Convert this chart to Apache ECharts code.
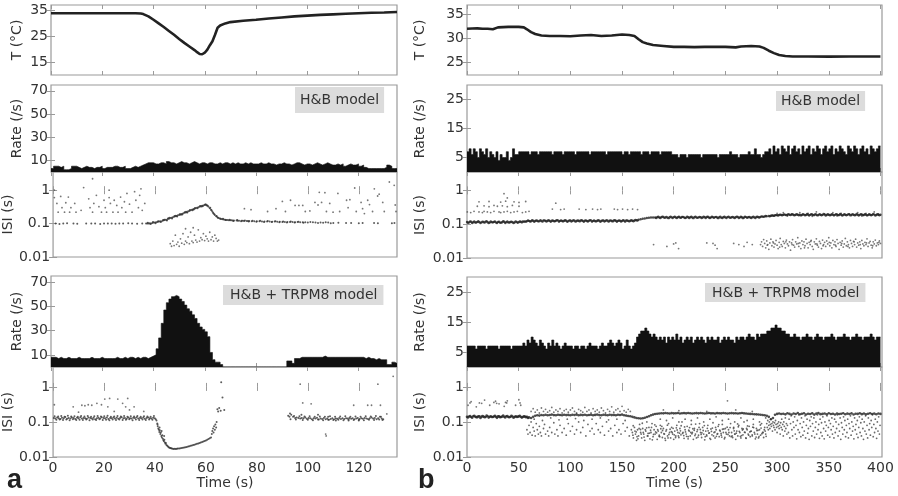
<!DOCTYPE html>
<html><head><meta charset="utf-8">
<script src="https://cdn.jsdelivr.net/npm/echarts@6/dist/echarts.min.js"></script>
<style>html,body{margin:0;padding:0;background:#fff}#c{width:898px;height:496px}</style>
</head><body><div id="c"></div>
<script>
// ---------------- DATA ----------------
// Panel a: temperature trace
const tempA = [[0,33.8],[5,33.8],[10,33.8],[15,33.8],[20,33.8],[25,33.8],[30,33.8],[33,33.8],[35,33.7],[36,33.5],[38,32.6],[40,31.3],[42,29.9],[44,28.5],[46,27.0],[48,25.5],[50,23.9],[52,22.4],[54,21.0],[56,19.6],[57,18.8],[58,18.1],[59,18.0],[60,18.6],[61,19.8],[62,21.5],[63,23.0],[64,25.5],[65,28.2],[66,29.1],[68,29.9],[70,30.4],[75,30.9],[80,31.3],[85,31.8],[90,32.2],[95,32.6],[100,32.9],[105,33.2],[110,33.4],[115,33.6],[120,33.8],[125,34.0],[130,34.1],[135,34.3]];
// Panel b: temperature trace
const tempB = [[0,32.0],[5,32.05],[10,32.1],[15,32.0],[20,32.0],[25,31.9],[30,32.3],[35,32.35],[40,32.4],[45,32.4],[50,32.4],[55,32.3],[58,31.9],[62,31.3],[66,30.9],[72,30.6],[80,30.5],[90,30.5],[100,30.45],[110,30.6],[120,30.7],[125,30.6],[130,30.5],[140,30.6],[150,30.8],[157,30.7],[162,30.5],[166,29.8],[170,29.2],[174,28.9],[180,28.6],[190,28.4],[200,28.2],[210,28.2],[220,28.15],[230,28.2],[240,28.2],[250,28.2],[260,28.1],[265,28.3],[275,28.4],[283,28.3],[287,28.0],[292,27.4],[297,26.9],[302,26.5],[308,26.3],[315,26.2],[330,26.2],[350,26.15],[370,26.2],[390,26.2],[400,26.2]];

// Firing-rate histograms (bin start 0)
const rateA1Bin = 1;
const rateA1 = [3,5,5,4,5,2,2,3,5,5, 4,3,4,5,4,4,3,4,4,5, 3,4,4,4,5,5,4,4,5,3, 3,4,5,4,5,6,7,8,8,8,
 7,7,8,8,7,9,8,8,7,8, 9,8,8,7,8,9,8,7,8,8, 7,8,8,7,7,8,7,8,8,7, 8,7,8,7,7,8,7,8,7,7,
 7,8,7,7,8,7,7,6,7,7, 8,7,7,6,7,8,8,7,6,7, 7,6,7,8,7,6,7,8,7,6, 6,7,6,7,5,6,7,6,6,7,
 5,6,4,3,3,3,3,3,3,3, 4,6,5,3,3];
const rateA2Bin = 1;
const rateA2 = [8,8,7,8,7,7,8,7,7,7, 8,7,7,7,7,8,7,7,7,8, 7,7,7,7,7,8,7,7,8,7, 8,8,7,8,7,8,8,7,8,9,
 10,15,24,36,47,53,56,58,59,58, 56,54,51,48,46,43,40,36,33,31, 29,25,12,6,4,4,2,0,0,0,
 0,0,0,0,0,0,0,0,0,0, 0,0,0,0,0,0,0,0,0,0, 0,0,5,5,3,7,7,8,8,8, 8,8,8,8,8,8,9,8,8,8,
 8,8,8,8,8,8,8,8,8,8, 8,8,7,8,7,7,6,7,6,6, 6,2,2,4,3];
const rateB1Bin = 2;
const rateB1 = [7,8,6,8,7,5,8,7,6,8,5,7,6,5,7,4,6,5,5,7,4,5,8,6,6,
 7,7,7,7,7,6,7,7,7,6,7,7,7,7,7,7,6,7,7,7, 7,6,7,7,7,7,7,6,7,7,7,7,7,7,6,7,7,7,7,7,
 7,7,6,7,7,7,7,7,7,7,6,7,7,6,7,7,7,7,7,6, 7,7,7,6,7,7,7,7,6,7,7,7,7,7,6,
 6,6,5,6,6,6,5,6,6,6, 6,6,6,5,6,6,6,6,6,6, 6,5,6,6,6,6,6,7,6,6, 6,5,6,6,6,6,7,6,6,8, 6,6,5,6,7,
 7,8,6,9,7,8,6,9,8,7, 9,6,8,9,7,8,6,9,7,8, 9,6,8,7,9,8,6,8,9,7, 8,9,6,8,7,9,8,7,6,9, 8,7,9,8,6,8,9,7,8,6, 9,8,7,8,9];
const rateB2Bin = 2;
const rateB2 = [7,7,7,7,6,7,7,7,7,6, 7,7,7,7,7,6,7,7,7,7, 7,6,7,7,7,7,
 7,8,7,9,8,10,9,8,7,9, 8,7,6,8,7,9,7,8,7,6, 7,8,7,
 7,7,6,7,7,6,7,7,6,7, 8,7,7,7,6,7,8,7,7,8, 9,8,7,8,9,8,6,7,9,7, 6,7,
 8,10,11,12,12,13,12,11,10,11,
 10,9,10,9,10,8,10,9,10,9, 11,9,10,8,9,10,9,10,8,9, 10,9,10,9,8,10,9,10,9,9, 10,8,9,10,9,10,9,9,8,10, 9,10,10,9,10,11,10,10,9,11, 10,11,11,11,
 12,12,13,13,14,13,13,12,12,11,11,
 10,10,11,10,10,9,10,10,11,10, 10,9,10,11,10,10,9,10,10,10, 11,10,9,10,10,10,11,10,10,9, 10,10,11,10,10,9,10,10,10,11, 10,9,10,10];

// ISI points [time s, ISI s] -- panel a, H&B model
const isiA1Base = [[1,0.1],[2.5,0.098],[4,0.1],[5.5,0.102],[8,0.1],[9.5,0.099],[13,0.1],[15,0.101],[16.5,0.1],[18.5,0.098],[20,0.1],[21.5,0.1],[23,0.101],[24.5,0.099],[26,0.1],[27.5,0.1],[29.5,0.102],[31,0.1],[33,0.099],[35,0.1],[36.5,0.101],
 [37,0.1],[37.5,0.101],[38,0.103],[38.5,0.1],[39,0.105],[39.5,0.107],[40,0.108],[40.5,0.11],[41,0.112],[41.5,0.115],[42,0.118],[42.5,0.116],[43,0.122],[43.5,0.125],[44,0.13],[44.5,0.128],[45,0.138],[45.5,0.14],[46,0.146],[46.5,0.15],[47,0.155],[47.5,0.16],[48,0.165],[48.5,0.17],[49,0.178],[49.5,0.182],[50,0.19],[50.5,0.195],[51,0.2],[51.5,0.21],[52,0.215],[52.5,0.22],[53,0.235],[53.5,0.24],[54,0.25],[54.5,0.26],[55,0.27],[55.5,0.28],[56,0.29],[56.5,0.3],[57,0.31],[57.5,0.32],[58,0.33],[58.5,0.34],[59,0.35],[59.5,0.36],[60,0.37],[60.5,0.35],[61,0.32],[61.5,0.29],[62,0.26],[62.5,0.23],[63,0.2],[63.5,0.18],[64,0.165],[64.5,0.155],[65,0.148],[65.5,0.142],[66,0.138],[66.5,0.135],[67,0.132],[67.5,0.13],[68,0.128],
 [43.2,0.128],[45.2,0.145],[48.2,0.172],[50.2,0.185],[52.2,0.225],[55.2,0.265],[58.2,0.325],[60.2,0.355],[62.8,0.21],[64.2,0.17],
 [68.5,0.127],[69,0.126],[69.5,0.125],[70,0.125],[70.5,0.124],[71,0.124],[72,0.123],[72.5,0.122],[73,0.122],[74,0.121],[74.5,0.121],[75,0.12],[76,0.12],[76.5,0.119],[77,0.119],[78,0.118],[79,0.118],[80,0.117],[81,0.117],[82,0.116],[83,0.116],[84,0.115],[85,0.115],[86,0.114],[87,0.115],[88,0.113],[89,0.113],[90,0.112],[91,0.112],[92,0.112],[93,0.111],[94,0.111],[95,0.11],[96,0.112],[97,0.11],[98,0.109],[99,0.11],[100,0.108],[102,0.109],[103,0.107],[105,0.108],[106,0.106],[108,0.107],[110,0.105],[112,0.106],[115,0.104],[117,0.105],[120,0.103],[121.5,0.105],[126,0.104],[127.5,0.102],[133,0.103],[134,0.105],
 [37.2,0.106],[38.2,0.097],[39.2,0.111],[40.2,0.103],[41.2,0.118],[42.2,0.111],[43.7,0.131],[44.7,0.124],[45.7,0.149],[46.7,0.142],[47.7,0.168],[48.7,0.163],[49.7,0.19],[50.7,0.188],[51.7,0.218],[52.7,0.213],[53.7,0.255],[54.7,0.25],[55.7,0.295],[56.7,0.29],[57.7,0.335],[58.7,0.33],[59.7,0.375],[60.7,0.34],[61.7,0.3],[62.2,0.25],[63.3,0.19],[64.7,0.15],[65.7,0.14],[66.7,0.14],[67.7,0.127],[69.3,0.13],[70.8,0.12],[72.3,0.128],[73.8,0.117],[75.3,0.124],[76.8,0.115],[78.3,0.122],[79.8,0.113],[81.3,0.121],[82.8,0.112],[84.3,0.119],[85.8,0.111],[87.3,0.118],[88.8,0.109],[90.3,0.116],[91.8,0.108],[93.3,0.115],[94.8,0.107],[96.3,0.114],[98.3,0.106],[101,0.112],[104,0.104],[107,0.11],[109,0.103]];
const isiA1Upper = [[0.5,1.0],[0.5,0.6],[1.5,0.4],[2,0.22],[3,0.65],[3.5,0.3],[4.5,0.22],[5,0.42],[6,0.62],[6.5,0.22],[7,0.3],[8.5,0.4],[9,0.22],[11,0.25],[12,1.2],[14,0.55],[14.5,0.3],[15.5,2.2],[15.5,0.22],[16,0.4],[17,0.7],[18,0.32],[19,0.22],[20,0.5],[20.5,0.3],[21,0.22],[22,1.0],[22,0.6],[22.5,0.4],[23.5,0.22],[24,0.5],[25,0.35],[25.5,0.22],[26.5,0.62],[27,0.3],[28,0.45],[28.5,0.22],[29,0.8],[30,0.38],[31,0.22],[32,0.9],[32.5,0.5],[33.5,0.3],[34,0.7],[34.5,1.1],[35,0.25],[36,0.4],
 [75.1,0.28],[77.7,0.26],[84.2,0.23],[87.5,0.28],[90,0.46],[91.2,0.23],[93.2,0.5],[95,0.35],[96.5,0.35],[98,0.35],[99,0.23],[100.8,0.24],[102.8,0.43],[104,0.36],[104.5,0.86],[105.4,0.43],[106.7,0.84],[107.3,0.23],[108.6,0.4],[109.9,0.22],[111.8,0.8],[112.5,0.23],[115.2,0.5],[115.8,0.3],[116.5,0.52],[118.4,1.16],[119,0.23],[120.9,0.43],[121.5,0.28],[122.2,0.2],[123.5,0.5],[124.2,0.37],[125.4,0.23],[126.1,1.1],[127.4,0.67],[128,0.76],[129.4,0.43],[130,0.23],[132,1.76],[133.9,1.4],[134.3,0.36],[134.6,0.23]];
const isiA1Low = [[46,0.025],[46.5,0.021],[47,0.03],[47.5,0.022],[48,0.045],[48.5,0.024],[49,0.028],[49.5,0.021],[50,0.035],[50.5,0.026],[51,0.05],[51.5,0.024],[52,0.03],[52.5,0.027],[53,0.04],[53.5,0.025],[54,0.055],[54.5,0.03],[55,0.027],[55.5,0.045],[56,0.032],[56.5,0.028],[57,0.065],[57.5,0.03],[58,0.038],[58.5,0.033],[59,0.05],[59.5,0.031],[60,0.042],[60.5,0.035],[61,0.03],[61.5,0.055],[62,0.033],[62.5,0.04],[63,0.03],[63.5,0.045],[64,0.036],[64.5,0.03],[65,0.032],[52,0.07],[55,0.075]];

// panel a, H&B + TRPM8 model
const isiA2Base = [[0.3,0.13],[0.9,0.125],[1.6,0.135],[2.2,0.128],[2.9,0.122],[3.5,0.132],[4.2,0.127],[4.8,0.138],[5.5,0.124],[6.1,0.13],[6.8,0.126],[7.4,0.133],[8.1,0.129],[8.7,0.121],[9.4,0.131],[10,0.127],[10.7,0.136],[11.3,0.125],[12,0.13],[12.6,0.128],[13.3,0.123],[13.9,0.134],[14.6,0.129],[15.2,0.126],[15.9,0.132],[16.5,0.12],[17.2,0.128],[17.8,0.131],[18.5,0.125],[19.1,0.137],[19.8,0.129],[20.4,0.127],[21.1,0.133],[21.7,0.122],[22.4,0.13],[23,0.128],[23.7,0.135],[24.3,0.126],[25,0.131],[25.6,0.124],[26.3,0.129],[26.9,0.136],[27.6,0.127],[28.2,0.13],[28.9,0.123],[29.5,0.133],[30.2,0.128],[30.8,0.125],[31.5,0.131],[32.1,0.129],[32.8,0.137],[33.4,0.126],[34.1,0.13],[34.7,0.127],[35.4,0.133],[36,0.124],[36.7,0.13],[37.3,0.135],[38,0.128],[38.6,0.126],[39.3,0.131],[39.9,0.127],
 [40.3,0.12],[40.6,0.11],[40.9,0.09],[41.1,0.075],[41.3,0.065],[41.5,0.06],[41.7,0.052],[41.9,0.058],[42.1,0.045],[42.3,0.05],[42.5,0.04],[42.7,0.036],[42.9,0.042],[43.1,0.033],[43.3,0.03],[43.5,0.028],[43.7,0.031],[43.9,0.026],[44.1,0.024],[44.3,0.025],[44.5,0.022],[44.8,0.021],[45.1,0.02],[45.4,0.019],[45.7,0.0185],[46,0.018],[46.3,0.0178],[46.6,0.0175],[47,0.0172],[47.4,0.017],[47.8,0.0171],[48.2,0.017],[41,0.085],[41.8,0.07],[42.6,0.055],[43.6,0.04],
 [48.6,0.0172],[49,0.0174],[49.5,0.0176],[50,0.0178],[50.5,0.018],[51,0.0183],[51.5,0.0186],[52,0.019],[52.5,0.0194],[53,0.0198],[53.5,0.0203],[54,0.0208],[54.5,0.0213],[55,0.0219],[55.5,0.0225],[56,0.0231],[56.5,0.0237],[57,0.0244],[57.5,0.0251],[58,0.0258],[58.5,0.0266],[59,0.0275],[59.5,0.0285],[60,0.0296],[60.5,0.031],[61,0.0325],[61.5,0.034],[62,0.036],
 [62.3,0.045],[62.5,0.055],[62.8,0.065],[63,0.05],[63.2,0.075],[63.5,0.06],[63.7,0.085],[64,0.07],[64.2,0.1],[64.5,0.23],[64.8,0.2],[65.2,0.25],[65.8,0.21],[66,1.35],[66.5,0.5],[67.2,0.22],
 [92.3,0.15],[92.8,0.14],[93.5,0.16],[94.2,0.14],[95,0.13],[95.6,0.135],[96.3,0.13],[97,0.125],[97.6,0.13],[98.3,0.128],[99,0.133],[99.6,0.124],[100.3,0.13],[101,0.127],[101.6,0.12],[102.3,0.128],[103,0.125],[103.6,0.132],[104.3,0.118],[105,0.126],[105.6,0.122],[106.3,0.13],[107,0.12],[107.6,0.125],[108.3,0.115],[109,0.122],[109.6,0.128],[110.3,0.12],[111,0.126],[111.6,0.124],[112.3,0.13],[113,0.122],[113.6,0.127],[114.3,0.121],[115,0.128],[115.6,0.125],[116.3,0.13],[117,0.123],[117.6,0.127],[118.3,0.12],[119,0.126],[119.6,0.13],[120.3,0.122],[121,0.127],[121.6,0.124],[122.3,0.13],[123,0.125],[123.6,0.122],[124.3,0.128],[125,0.135],[125.6,0.126],[126.3,0.13],[127,0.12],[127.6,0.128],[128.3,0.14],[129,0.125],[129.6,0.12],
 [93,0.175],[97.5,0.16],[104,0.16],[108,0.14],[111,0.11],[116,0.11],[120,0.11],
 [0.6,0.145],[1.3,0.115],[2,0.142],[2.6,0.118],[3.2,0.148],[3.9,0.113],[4.5,0.14],[5.2,0.117],[5.8,0.15],[6.5,0.112],[7.1,0.143],[7.8,0.119],[8.4,0.146],[9.1,0.114],[9.7,0.141],[10.4,0.116],[11,0.149],[11.7,0.113],[12.3,0.144],[13,0.118],[13.6,0.147],[14.3,0.112],[14.9,0.14],[15.6,0.117],[16.2,0.145],[16.9,0.114],[17.5,0.148],[18.2,0.119],[18.8,0.142],[19.5,0.113],[20.1,0.146],[20.8,0.116],[21.4,0.15],[22.1,0.112],[22.7,0.141],[23.4,0.118],[24,0.144],[24.7,0.114],[25.3,0.147],[26,0.117],[26.6,0.143],[27.3,0.113],[27.9,0.149],[28.6,0.116],[29.2,0.14],[29.9,0.119],[30.5,0.145],[31.2,0.112],[31.8,0.142],[32.5,0.118],[33.1,0.148],[33.8,0.114],[34.4,0.141],[35.1,0.117],[35.7,0.146],[36.4,0.113],[37,0.144],[37.7,0.118],[38.3,0.14],[39,0.115],[39.6,0.147],
 [93.2,0.12],[94.6,0.148],[95.3,0.118],[96.7,0.145],[98,0.113],[98.7,0.142],[100,0.115],[100.7,0.146],[102,0.112],[102.7,0.14],[104,0.117],[104.7,0.144],[106,0.111],[106.7,0.141],[108,0.116],[108.7,0.145],[110,0.113],[110.7,0.14],[112,0.115],[112.7,0.143],[114,0.112],[114.7,0.146],[116,0.117],[116.7,0.141],[118,0.113],[118.7,0.144],[120,0.116],[120.7,0.14],[122,0.111],[122.7,0.145],[124,0.115],[124.7,0.142],[126,0.113],[126.7,0.147],[128,0.117],[128.7,0.141],[129.3,0.114]];
const isiA2Upper = [[0.5,0.31],[7.9,0.27],[10,0.19],[11.3,0.3],[12.5,0.29],[13.8,0.31],[15.2,0.3],[17.2,0.34],[19,0.31],[20.3,0.45],[21.5,0.27],[22.2,0.47],[24,0.2],[25.4,0.45],[27.3,0.34],[28.5,0.27],[29.3,0.47],[30,0.22],[31.8,0.27],[35.6,0.2],
 [97,1.2],[98,0.35],[101.3,0.33],[107,0.045],[107.2,0.04],[118,0.3],[123.5,0.3],[125,0.3],[127.5,1.2],[128.5,0.3],[131,0.17],[133.5,2.0]];

// panel b, H&B model: regular-time bands [start, values every bandStep s]
const bandStep = 2;
const isiB1Band = [
 [0,[0.116,0.113,0.118,0.114,0.112,0.117,0.115,0.113,0.116,0.119,0.114,0.112,0.115,0.117,0.113,0.116,0.111,0.114,0.118,0.115,0.113,0.116,0.114,0.112,0.117,0.115,0.118,0.12]],
 [56,[0.121,0.123,0.125,0.122,0.126,0.124,0.127,0.123,0.125,0.128,0.124,0.126,0.125,0.127,0.123,0.126,0.128,0.125,0.124,0.127,0.126,0.123,0.128,0.125,0.127,0.124,0.126,0.129,0.125,0.127,0.124,0.126,0.128,0.125,0.123,0.127,0.126,0.124,0.128,0.125,0.127,0.126,0.124,0.128,0.126,0.125,0.127,0.124,0.126,0.128,0.125,0.127,0.126,0.129,0.131]],
 [166,[0.135,0.14,0.145,0.148,0.152,0.155,0.157,0.158]],
 [182,[0.158,0.161,0.157,0.16,0.163,0.158,0.156,0.161,0.159,0.162,0.157,0.16,0.158,0.163,0.159,0.156,0.161,0.16,0.158,0.162,0.157,0.159,0.161,0.158,0.16,0.163,0.157,0.159,0.16,0.162,0.158,0.161,0.156,0.16,0.159,0.162,0.158,0.16,0.157,0.161,0.163,0.159,0.16,0.158,0.162,0.16,0.157,0.161,0.159,0.163,0.16,0.165,0.168,0.17,0.172]],
 [292,[0.175,0.178,0.18,0.183,0.185,0.187,0.188,0.19,0.189,0.191,0.19,0.192,0.188,0.19,0.191]],
 [322,[0.19,0.188,0.192,0.187,0.191,0.189,0.193,0.188,0.19,0.186,0.191,0.189,0.192,0.188,0.19,0.187,0.191,0.189,0.193,0.188,0.19,0.186,0.191,0.189,0.192,0.188,0.19,0.187,0.191,0.189,0.193,0.188,0.19,0.186,0.191,0.189,0.192,0.188,0.19,0.191]],
 [1,[0.11,0.121,0.108,0.12,0.112,0.122,0.109,0.119,0.111,0.123,0.108,0.12,0.113,0.121,0.109,0.118,0.111,0.122,0.108,0.12,0.112,0.119,0.109,0.121,0.11,0.12,0.113,0.119]],
 [57,[0.119,0.13,0.12,0.131,0.118,0.129,0.121,0.132,0.119,0.13,0.12,0.131,0.118,0.129,0.122,0.132,0.119,0.13,0.121,0.131,0.118,0.13,0.12,0.132,0.119,0.129,0.121,0.131,0.118,0.13,0.12,0.132,0.119,0.13,0.121,0.131,0.118,0.129,0.12,0.132,0.119,0.13,0.121,0.131,0.118,0.13,0.12,0.132,0.119,0.129,0.121,0.131,0.122,0.133,0.128]],
 [183,[0.153,0.166,0.152,0.167,0.154,0.165,0.151,0.168,0.153,0.166,0.152,0.167,0.154,0.165,0.152,0.168,0.153,0.166,0.151,0.167,0.154,0.165,0.152,0.168,0.153,0.166,0.152,0.167,0.154,0.165,0.151,0.168,0.153,0.166,0.152,0.167,0.154,0.165,0.152,0.168,0.153,0.166,0.151,0.167,0.154,0.165,0.152,0.168,0.153,0.166,0.158,0.17,0.165,0.175]],
 [293,[0.172,0.18,0.176,0.186,0.18,0.192,0.183,0.195,0.185,0.198,0.186,0.197,0.184,0.196,0.183]],
 [323,[0.182,0.198,0.184,0.2,0.181,0.197,0.185,0.199,0.182,0.198,0.183,0.2,0.181,0.197,0.184,0.199,0.182,0.198,0.185,0.2,0.181,0.197,0.183,0.199,0.182,0.198,0.184,0.2,0.181,0.197,0.185,0.199,0.182,0.198,0.183,0.2,0.181,0.197,0.184]]
];
const isiB1Upper = [[0.3,0.23],[3.6,0.22],[6.8,0.24],[11.6,0.23],[14.9,0.22],[16.5,0.24],[19.7,0.23],[22.9,0.22],[26.1,0.24],[31,0.23],[32.6,0.22],[35.8,0.23],[39,0.24],[42.3,0.22],[45.5,0.23],[48.7,0.24],[53.6,0.22],[56.8,0.23],[60,0.24],
 [10,0.34],[16.5,0.35],[21.3,0.33],[26.1,0.36],[29.4,0.34],[34.2,0.35],[39,0.33],[43.9,0.36],[50.3,0.34],
 [11.6,0.46],[21.3,0.47],[32.6,0.45],[37.4,0.48],[45.5,0.46],[50.3,0.44],[56.8,0.47],[35.8,0.8],[39,0.6],
 [82.6,0.28],[85.9,0.42],[90.6,0.27],[94,0.28],[108.5,0.28],[115,0.27],[121.5,0.28],[126.3,0.27],[129.5,0.28],[142.5,0.28],[145.7,0.27],[150.5,0.28],[155.4,0.27],[160.2,0.28],[165,0.27],
 [300,0.21],[306,0.22],[314,0.2],[322,0.22],[330,0.21],[338,0.23],[346,0.2],[354,0.22],[362,0.21],[370,0.2],[378,0.22],[386,0.21],[394,0.23],[398,0.2],[310,0.175],[334,0.172],[358,0.176],[382,0.174]];
const isiB1Low = [[180.5,0.025],[193.4,0.022],[199.9,0.026],[202,0.028],[204.7,0.019],[232,0.028],[238,0.027],[240,0.024],[242,0.019],[258,0.027],[263,0.025],[268,0.022],[271,0.029],[276,0.025],
 [284,0.025],[285,0.03],[286,0.022],[287,0.035],[288,0.027],[289,0.02],[290,0.032],[291,0.025],[292,0.018],[293,0.028],[294,0.036],[295,0.023],[296,0.03],[297,0.021],[298,0.026],[299,0.033],[300,0.024],[301,0.019],[302,0.029],[303,0.038],[304,0.025],[305,0.022],[306,0.031],[307,0.027],[308,0.02],[309,0.034],[310,0.026],[311,0.023],[312,0.03],[313,0.017],[314,0.028],[315,0.035],[316,0.024],[317,0.021],[318,0.03],[319,0.026],[320,0.04],[321,0.022],[322,0.028],[323,0.019],[324,0.032],[325,0.025],[326,0.03],[327,0.023],[328,0.036],[329,0.027],[330,0.02],[331,0.029],[332,0.025],[333,0.033],[334,0.022],[335,0.018],[336,0.03],[337,0.026],[338,0.037],[339,0.024],[340,0.021],[341,0.031],[342,0.027],[343,0.019],[344,0.034],[345,0.025],[346,0.029],[347,0.022],[348,0.032],[349,0.026],[350,0.04],[351,0.023],[352,0.028],[353,0.02],[354,0.033],[355,0.025],[356,0.03],[357,0.022],[358,0.035],[359,0.027],[360,0.018],[361,0.029],[362,0.024],[363,0.032],[364,0.021],[365,0.026],[366,0.038],[367,0.023],[368,0.03],[369,0.025],[370,0.02],[371,0.033],[372,0.027],[373,0.022],[374,0.031],[375,0.025],[376,0.036],[377,0.021],[378,0.028],[379,0.024],[380,0.03],[381,0.019],[382,0.033],[383,0.026],[384,0.023],[385,0.029],[386,0.025],[387,0.037],[388,0.022],[389,0.028],[390,0.031],[391,0.024],[392,0.02],[393,0.03],[394,0.026],[395,0.034],[396,0.023],[397,0.028],[398,0.025],[399,0.032],[400,0.027],
 [290.5,0.024],[296.5,0.028],[302.5,0.021],[308.5,0.03],[314.5,0.025],[320.5,0.027],[326.5,0.02],[332.5,0.031],[338.5,0.026],[344.5,0.023],[350.5,0.029],[356.5,0.024],[362.5,0.027],[368.5,0.022],[374.5,0.03],[380.5,0.025],[386.5,0.028],[392.5,0.023],[398.5,0.029]];

// panel b, H&B + TRPM8 model
const isiB2Band = [
 [0,[0.14,0.143,0.138,0.145,0.141,0.137,0.144,0.14,0.142,0.139,0.146,0.141,0.138,0.143,0.14,0.144,0.137,0.142,0.14,0.145,0.139,0.141,0.143,0.138,0.14,0.144,0.141,0.139,0.142,0.14,0.135]],
 [1,[0.135,0.148,0.132,0.15,0.137,0.145,0.13,0.147,0.136,0.152,0.133,0.146,0.138,0.15,0.131,0.144,0.139,0.153,0.134,0.147,0.136,0.149,0.132,0.145,0.14,0.151,0.133,0.146,0.137,0.13]],
 [62,[0.13,0.14,0.15,0.155,0.152,0.158,0.156,0.16,0.155,0.158,0.162,0.157,0.155,0.16,0.158,0.156,0.161,0.157,0.159,0.155,0.16,0.158,0.162,0.156,0.159,0.157,0.161,0.155,0.158,0.16,0.156,0.159,0.162,0.157,0.155,0.16,0.158,0.156,0.161,0.157,0.159,0.155,0.16,0.158,0.162,0.156,0.152,0.148,0.145,0.14]],
 [162,[0.135,0.13,0.127,0.125,0.128,0.132,0.138,0.145,0.155,0.162,0.168,0.172]],
 [186,[0.175,0.178,0.176,0.18,0.177,0.174,0.179,0.176,0.178,0.181,0.175,0.177,0.179,0.176,0.18,0.178,0.174,0.177,0.179,0.176,0.181,0.178,0.175,0.177,0.18,0.176,0.178,0.174,0.179,0.177,0.176,0.18,0.178,0.175,0.177,0.179,0.176,0.178,0.174,0.177,0.18,0.176,0.175,0.172,0.17,0.168,0.166,0.165,0.163,0.16,0.158,0.155]],
 [290,[0.15,0.14,0.12,0.13,0.16,0.17,0.175,0.168,0.172,0.165,0.178,0.17,0.163,0.175,0.169,0.18,0.166,0.172,0.177,0.164,0.171,0.168,0.176,0.162,0.173,0.179,0.167,0.17,0.174,0.165,0.177,0.169,0.172,0.163,0.175,0.168,0.171,0.178,0.166,0.173,0.169,0.176,0.164,0.172,0.17,0.177,0.167,0.174,0.165,0.171,0.178,0.168,0.173,0.166,0.175,0.17]]
];
const isiB2Upper = [[1,0.3],[2.9,0.35],[4,0.38],[9,0.27],[12,0.35],[14.2,0.34],[17,0.42],[22,0.3],[26,0.36],[27.6,0.39],[28.7,0.34],[31,0.33],[36,0.28],[37.3,0.36],[38.4,0.35],[39,0.4],[47,0.3],[50.2,0.43],[51.3,0.35],[52,0.3],[252,0.4],
 [62,0.2],[64,0.24],[66,0.19],[68,0.22],[70,0.18],[72,0.25],[74,0.2],[76,0.23],[78,0.19],[80,0.21],[82,0.26],[84,0.19],[86,0.22],[88,0.2],[90,0.24],[92,0.18],[94,0.21],[96,0.23],[98,0.19],[100,0.22],[102,0.25],[104,0.2],[106,0.18],[108,0.23],[110,0.21],[112,0.19],[114,0.26],[116,0.2],[118,0.22],[120,0.18],[122,0.24],[124,0.2],[126,0.22],[128,0.19],[130,0.25],[132,0.21],[134,0.18],[136,0.23],[138,0.2],[140,0.27],[142,0.19],[144,0.22],[146,0.24],[148,0.2],[150,0.28],[152,0.21],[154,0.19],[156,0.23],[158,0.2],
 [190,0.22],[205,0.21],[232,0.2],[260,0.22],[276,0.2]];
const isiB2Low = [[58,0.06],[59,0.045],[60,0.08],[61,0.05],[62,0.1],[63,0.042],[64,0.07],[65,0.055],[66,0.04],[67,0.09],[68,0.06],[69,0.045],[70,0.075],[71,0.05],[72,0.04],[74,0.065],[75,0.085],[76,0.045],[78,0.055],[79,0.04],[80,0.07],[82,0.05],[84,0.095],[85,0.045],[87,0.06],[88,0.04],[90,0.08],[92,0.05],[94,0.065],[96,0.042],[98,0.09],[100,0.055],[102,0.075],[104,0.045],[106,0.06],[108,0.1],[110,0.05],[112,0.07],[115,0.04],[117,0.085],[119,0.055],[121,0.065],[123,0.045],[125,0.09],[127,0.06],[129,0.05],[131,0.075],[133,0.042],[135,0.1],[137,0.055],[139,0.065],[141,0.04],[143,0.08],[145,0.05],[147,0.06],[149,0.045],[151,0.09],[153,0.055],[155,0.07],[157,0.04],[159,0.06],
 [65,0.12],[73,0.11],[81,0.13],[89,0.115],[97,0.12],[105,0.125],[113,0.11],[121,0.12],[129,0.13],[137,0.115],[145,0.12],[153,0.11],
 [160,0.05],[161,0.035],[162,0.07],[163,0.045],[164,0.03],[165,0.06],[166,0.04],[167,0.085],[168,0.05],[169,0.035],[170,0.065],[171,0.045],[172,0.03],[173,0.055],[174,0.1],[175,0.04],[176,0.07],[177,0.033],[178,0.05],[179,0.09],[180,0.038],[181,0.06],[182,0.045],[183,0.075],[184,0.032],[185,0.055],[186,0.042],[187,0.08],[188,0.05],[189,0.036],[190,0.065],[191,0.045],[192,0.03],[193,0.06],[194,0.04],[195,0.09],[196,0.05],[197,0.035],[198,0.07],[199,0.045],[200,0.032],[201,0.055],[202,0.04],[203,0.08],[204,0.05],[205,0.036],[206,0.065],[207,0.043],[208,0.1],[209,0.05],[210,0.034],[211,0.06],[212,0.045],[213,0.075],[214,0.038],[215,0.055],[216,0.04],[217,0.085],[218,0.05],[219,0.032],[220,0.065],[221,0.045],[222,0.035],[223,0.06],[224,0.042],[225,0.09],[226,0.05],[227,0.036],[228,0.07],[229,0.045],[230,0.031],[231,0.055],[232,0.04],[233,0.08],[234,0.048],[235,0.034],[236,0.063],[237,0.043],[238,0.095],[239,0.05],[240,0.035],[241,0.06],[242,0.045],[243,0.075],[244,0.038],[245,0.055],[246,0.042],[247,0.085],[248,0.05],[249,0.033],[250,0.065],[251,0.045],[253,0.06],[254,0.04],[255,0.09],[256,0.05],[257,0.036],[258,0.07],[259,0.045],[260,0.032],[261,0.055],[262,0.04],[263,0.08],[264,0.05],[265,0.035],[266,0.065],[267,0.043],[268,0.1],[269,0.05],[270,0.034],[271,0.06],[272,0.045],[273,0.075],[274,0.038],[275,0.055],[276,0.04],[277,0.085],[278,0.05],[279,0.033],[280,0.065],[281,0.045],[282,0.035],[283,0.06],[284,0.042],[285,0.09],[286,0.05],[287,0.036],[288,0.07],[289,0.045],
 [160.5,0.042],[162.5,0.055],[164.5,0.038],[166.5,0.065],[168.5,0.045],[170.5,0.05],[172.5,0.06],[174.5,0.04],[176.5,0.048],[178.5,0.07],[180.5,0.044],[182.5,0.052],[184.5,0.06],[186.5,0.038],[188.5,0.075],[190.5,0.046],[192.5,0.055],[194.5,0.035],[196.5,0.062],[198.5,0.05],[200.5,0.043],[202.5,0.068],[204.5,0.04],[206.5,0.056],[208.5,0.047],[210.5,0.072],[212.5,0.039],[214.5,0.058],[216.5,0.05],[218.5,0.064],[220.5,0.041],[222.5,0.053],[224.5,0.07],[226.5,0.044],[228.5,0.057],[230.5,0.038],[232.5,0.066],[234.5,0.049],[236.5,0.054],[238.5,0.04],[240.5,0.07],[242.5,0.046],[244.5,0.058],[246.5,0.037],[248.5,0.063],[250.5,0.05],[252.5,0.044],[254.5,0.069],[256.5,0.04],[258.5,0.056],[260.5,0.048],[262.5,0.073],[264.5,0.039],[266.5,0.059],[268.5,0.051],[270.5,0.065],[272.5,0.042],[274.5,0.054],[276.5,0.071],[278.5,0.045],[280.5,0.057],[282.5,0.038],[284.5,0.067],[286.5,0.05],[288.5,0.055],
 [160.8,0.078],[163.7,0.052],[165.4,0.033],[167.9,0.061],[169.6,0.092],[171.3,0.037],[173.8,0.068],[175.2,0.047],[177.6,0.058],[179.3,0.031],[181.7,0.083],[183.4,0.049],[185.8,0.039],[187.5,0.064],[189.2,0.057],[191.6,0.034],[193.9,0.081],[195.3,0.044],[197.7,0.053],[199.4,0.066],[201.8,0.036],[203.3,0.059],[205.6,0.048],[207.2,0.078],[209.7,0.041],[211.4,0.052],[213.9,0.033],[215.3,0.069],[217.6,0.046],[219.8,0.058],[221.2,0.087],[223.5,0.037],[225.7,0.061],[227.3,0.049],[229.6,0.079],[231.8,0.043],[233.3,0.056],[235.7,0.032],[237.4,0.067],[239.9,0.052],[241.3,0.039],[243.6,0.084],[245.8,0.047],[247.2,0.062],[249.5,0.036],[251.7,0.071],[253.4,0.05],[255.6,0.038],[257.9,0.065],[259.3,0.045],[261.8,0.088],[263.4,0.054],[265.7,0.041],[267.2,0.063],[269.8,0.035],[271.4,0.077],[273.6,0.052],[275.9,0.043],[277.3,0.069],[279.7,0.037],[281.5,0.058],[283.8,0.082],[285.3,0.046],[287.6,0.06],[289.4,0.039],
 [187,0.12],[193,0.11],[199,0.13],[205,0.1],[211,0.12],[217,0.11],[223,0.13],[229,0.1],[235,0.12],[241,0.14],[247,0.11],[253,0.12],[259,0.1],[265,0.13],[271,0.11],[277,0.12],[283,0.1],[289,0.13],
 [290,0.09],[290.5,0.07],[291,0.11],[291.5,0.06],[292,0.08],[292.5,0.1],[293,0.065],[293.5,0.085],[294,0.12],[294.5,0.075],[295,0.09],[295.5,0.055],[296,0.1],[296.5,0.08],[297,0.07],[297.5,0.095],[298,0.06],[298.5,0.11],[299,0.085],[299.5,0.07],[300,0.05],[300.5,0.09],[301,0.075],[301.5,0.1],[302,0.065],[302.5,0.08],[303,0.045],[303.5,0.095],[304,0.07],[304.5,0.12],[305,0.06],[305.5,0.085],[306,0.04],[306.5,0.1],[307,0.075],[307.5,0.055],[308,0.13],[308.5,0.065],[309,0.09],[309.5,0.045],[310,0.08],
 [311,0.05],[311.6,0.12],[312.3,0.035],[313,0.09],[313.6,0.15],[314.3,0.06],[315,0.04],[315.6,0.1],[316.3,0.07],[317,0.14],[317.6,0.045],[318.3,0.08],[319,0.033],[319.6,0.11],[320.3,0.06],[321,0.16],[321.6,0.05],[322.3,0.09],[323,0.038],[323.6,0.13],[324.3,0.07],[325,0.042],[325.6,0.1],[326.3,0.055],[327,0.15],[327.6,0.035],[328.3,0.08],[329,0.12],[329.6,0.048],[330.3,0.065],[331,0.032],[331.6,0.11],[332.3,0.075],[333,0.14],[333.6,0.04],[334.3,0.09],[335,0.055],[335.6,0.13],[336.3,0.036],[337,0.07],[337.6,0.1],[338.3,0.045],[339,0.16],[339.6,0.06],[340.3,0.085],[341,0.034],[341.6,0.12],[342.3,0.05],[343,0.095],[343.6,0.04],[344.3,0.14],[345,0.065],[345.6,0.033],[346.3,0.1],[347,0.055],[347.6,0.08],[348.3,0.15],[349,0.042],[349.6,0.07],[350.3,0.11],[351,0.037],[351.6,0.09],[352.3,0.06],[353,0.13],[353.6,0.045],[354.3,0.075],[355,0.035],[355.6,0.12],[356.3,0.05],[357,0.1],[357.6,0.065],[358.3,0.16],[359,0.04],[359.6,0.085],[360.3,0.055],[361,0.13],[361.6,0.032],[362.3,0.095],[363,0.07],[363.6,0.045],[364.3,0.14],[365,0.06],[365.6,0.11],[366.3,0.038],[367,0.08],[367.6,0.05],[368.3,0.12],[369,0.035],[369.6,0.09],[370.3,0.065],[371,0.15],[371.6,0.042],[372.3,0.1],[373,0.055],[373.6,0.075],[374.3,0.033],[375,0.13],[375.6,0.06],[376.3,0.085],[377,0.045],[377.6,0.11],[378.3,0.036],[379,0.07],[379.6,0.14],[380.3,0.05],[381,0.095],[381.6,0.04],[382.3,0.12],[383,0.065],[383.6,0.032],[384.3,0.1],[385,0.055],[385.6,0.15],[386.3,0.045],[387,0.08],[387.6,0.035],[388.3,0.13],[389,0.06],[389.6,0.09],[390.3,0.042],[391,0.11],[391.6,0.07],[392.3,0.16],[393,0.038],[393.6,0.085],[394.3,0.05],[395,0.12],[395.6,0.065],[396.3,0.034],[397,0.1],[397.6,0.055],[398.3,0.14],[399,0.045],[399.6,0.08]];

// Tick labels
const xTicksA = [0,20,40,60,80,100,120];
const xTicksB = [0,50,100,150,200,250,300,350,400];
const tTicksA = [15,25,35];
const tTicksB = [25,30,35];
const rateTicksA = [10,30,50,70];
const rateTicksB = [5,15,25];
const isiTicks = [0.01,0.1,1];
const isiTickLabels = ['0.01','0.1','1'];
const modelLabels = ['H&B model','H&B + TRPM8 model'];
const panelLetters = ['a','b'];

// ---------------- BUILD ----------------
const FONT = "'DejaVu Sans', sans-serif";
const TXT = '#333';
const FRAME = '#9a9a9a';
const lg = pts => pts.map(p => [p[0], Math.log10(p[1])]);
const hist = (vals, w) => { const o = vals.map((v,i)=>[i*w, v]); o.push([vals.length*w, vals[vals.length-1]]); return o; };
const band = segs => { const o=[]; segs.forEach(s => s[1].forEach((v,i)=>o.push([s[0]+i*bandStep, v]))); return o; };
const lgTicks = isiTicks.map(v => Math.log10(v));
const lgFmt = v => { const i = lgTicks.findIndex(t => Math.abs(t - v) < 1e-6); return i >= 0 ? isiTickLabels[i] : ''; };

const AL = 51, AW = 346, BL = 467, BW = 415;
const panels = [
 {l:AL,t:5,w:AW,h:70, xMax:135, xt:xTicksA, yMin:10, yMax:37, yt:tTicksA, name:'T (°C)', gap:27},
 {l:AL,t:85,w:AW,h:87, xMax:135, xt:xTicksA, yMin:0, yMax:75, yt:rateTicksA, name:'Rate (/s)', gap:27},
 {l:AL,t:172,w:AW,h:85, xMax:135, xt:xTicksA, yMin:-2, yMax:Math.log10(3.5), yt:lgTicks, fmt:lgFmt, name:'ISI (s)', gap:27},
 {l:AL,t:276,w:AW,h:91, xMax:135, xt:xTicksA, yMin:0, yMax:75, yt:rateTicksA, name:'Rate (/s)', gap:27},
 {l:AL,t:367,w:AW,h:90, xMax:135, xt:xTicksA, yMin:-2, yMax:Math.log10(3.7), yt:lgTicks, fmt:lgFmt, name:'ISI (s)', gap:27, xl:true},
 {l:BL,t:5,w:BW,h:70, xMax:401.5, xt:xTicksB, yMin:22.3, yMax:37, yt:tTicksB, name:'T (°C)', gap:40},
 {l:BL,t:85,w:BW,h:87, xMax:401.5, xt:xTicksB, yMin:0, yMax:30, yt:rateTicksB, name:'Rate (/s)', gap:40},
 {l:BL,t:172,w:BW,h:86, xMax:401.5, xt:xTicksB, yMin:-2, yMax:Math.log10(3.5), yt:lgTicks, fmt:lgFmt, name:'ISI (s)', gap:40},
 {l:BL,t:277,w:BW,h:90, xMax:401.5, xt:xTicksB, yMin:0, yMax:30, yt:rateTicksB, name:'Rate (/s)', gap:40},
 {l:BL,t:367,w:BW,h:90, xMax:401.5, xt:xTicksB, yMin:-2, yMax:Math.log10(3.7), yt:lgTicks, fmt:lgFmt, name:'ISI (s)', gap:40, xl:true}
];

const grid=[], xAxis=[], yAxis=[];
const lbl = {color:TXT, fontSize:14, fontFamily:FONT};
panels.forEach((p,i) => {
  grid.push({left:p.l, top:p.t, width:p.w, height:p.h, show:true, borderColor:FRAME, borderWidth:1.2, backgroundColor:'transparent'});
  const tick = vals => ({show:true, inside:true, length:4, customValues:vals, lineStyle:{color:FRAME, width:1}});
  xAxis.push({gridIndex:i, type:'value', position:'bottom', min:0, max:p.xMax,
    axisLine:{show:false}, splitLine:{show:false}, axisTick:tick(p.xt),
    axisLabel:Object.assign({show:!!p.xl, customValues:p.xt, margin:4}, lbl),
    name:p.xl?'Time (s)':'', nameLocation:'middle', nameGap:19, nameTextStyle:lbl});
  xAxis.push({gridIndex:i, type:'value', position:'top', min:0, max:p.xMax,
    axisLine:{show:false}, splitLine:{show:false}, axisTick:tick(p.xt), axisLabel:{show:false, customValues:p.xt}});
  yAxis.push({gridIndex:i, type:'value', position:'left', min:p.yMin, max:p.yMax,
    axisLine:{show:false}, splitLine:{show:false}, axisTick:tick(p.yt),
    axisLabel:Object.assign({customValues:p.yt, margin:3, formatter:p.fmt||(v=>String(v))}, lbl),
    name:p.name, nameLocation:'middle', nameGap:p.gap, nameTextStyle:lbl});
  yAxis.push({gridIndex:i, type:'value', position:'right', min:p.yMin, max:p.yMax,
    axisLine:{show:false}, splitLine:{show:false}, axisTick:tick(p.yt), axisLabel:{show:false, customValues:p.yt}});
});

const series = [];
const on = i => ({xAxisIndex:2*i, yAxisIndex:2*i});
const tLine = (i, data) => Object.assign({type:'line', data, showSymbol:false, symbol:'none', lineStyle:{color:'#222', width:2.6}, silent:true}, on(i));
const rLine = (i, data) => Object.assign({type:'line', data, step:'end', showSymbol:false, symbol:'none', lineStyle:{color:'#111', width:0.6}, areaStyle:{color:'#111', opacity:1}, silent:true}, on(i));
const sc = (i, data, size, color) => Object.assign({type:'scatter', data:lg(data), symbol:'circle', symbolSize:size, itemStyle:{color}, silent:true}, on(i));

series.push(tLine(0, tempA));
series.push(rLine(1, hist(rateA1, rateA1Bin)));
series.push(sc(2, isiA1Upper, 1.8, '#555'));
series.push(sc(2, isiA1Low, 1.8, '#555'));
series.push(sc(2, isiA1Base, 2, '#333'));
series.push(rLine(3, hist(rateA2, rateA2Bin)));
series.push(sc(4, isiA2Upper, 1.8, '#555'));
series.push(sc(4, isiA2Base, 2, '#333'));
series.push(tLine(5, tempB));
series.push(rLine(6, hist(rateB1, rateB1Bin)));
series.push(sc(7, isiB1Upper, 1.8, '#555'));
series.push(sc(7, isiB1Low, 1.8, '#555'));
series.push(sc(7, band(isiB1Band), 2.4, '#222'));
series.push(rLine(8, hist(rateB2, rateB2Bin)));
series.push(sc(9, isiB2Low, 1.8, '#444'));
series.push(sc(9, isiB2Upper, 1.8, '#555'));
series.push(sc(9, band(isiB2Band), 2.6, '#222'));

const boxText = {fontSize:14, fontWeight:'normal', color:TXT, fontFamily:FONT};
const title = [
  {text:modelLabels[0], left:295, top:87, padding:[6,5,6,5], backgroundColor:'#dcdcdc', textStyle:boxText},
  {text:modelLabels[0], left:776, top:91, padding:[3,5,3,5], backgroundColor:'#dcdcdc', textStyle:boxText},
  {text:modelLabels[1], left:223, top:285, padding:[3,6,3,7], backgroundColor:'#dcdcdc', textStyle:boxText},
  {text:modelLabels[1], left:705, top:283, padding:[3,6,2,7], backgroundColor:'#dcdcdc', textStyle:boxText}
];
const graphic = [
  {type:'text', x:7, y:494, style:{text:panelLetters[0], font:"bold 27px 'Liberation Sans'", fill:'#222', verticalAlign:'bottom'}},
  {type:'text', x:418, y:494, style:{text:panelLetters[1], font:"bold 27px 'Liberation Sans'", fill:'#222', verticalAlign:'bottom'}}
];

const chart = echarts.init(document.getElementById('c'), null, {renderer:'canvas', width:898, height:496});
chart.setOption({animation:false, backgroundColor:'#fff', grid, xAxis, yAxis, series, title, graphic});
</script></body></html>
